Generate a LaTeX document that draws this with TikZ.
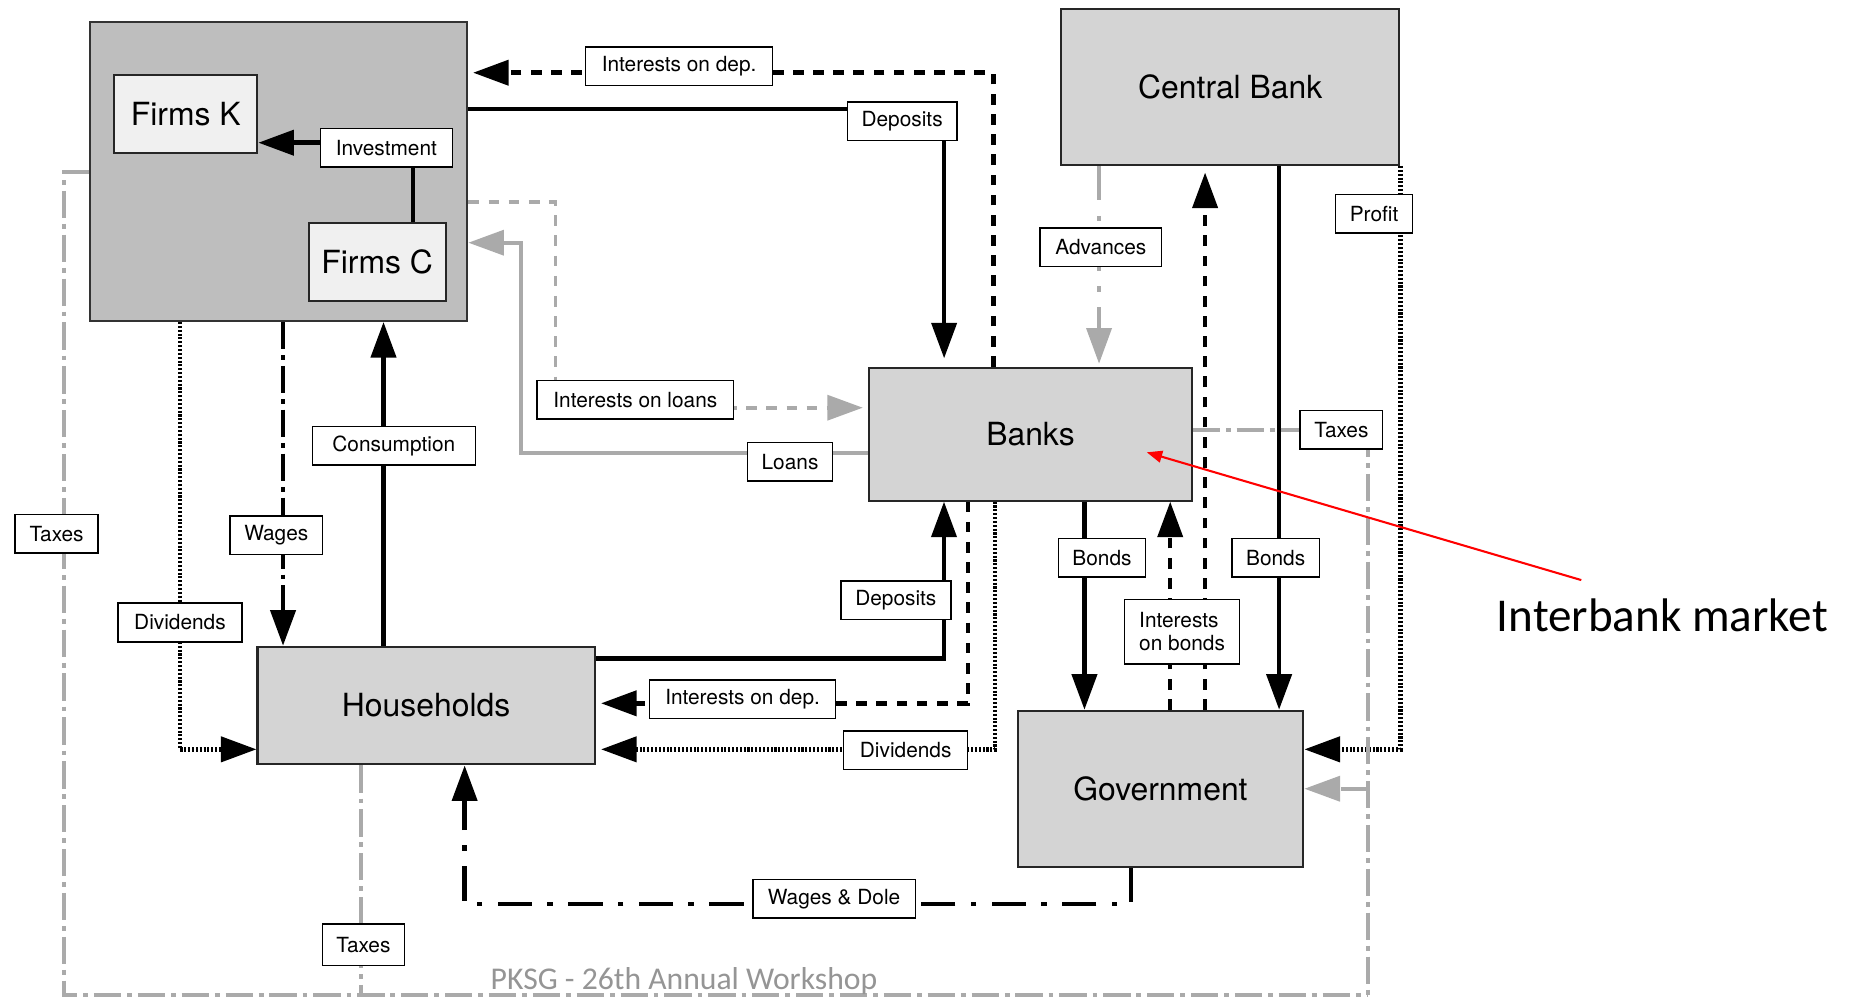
\documentclass[tikz,border=0pt]{standalone}
\usepackage{fontspec}
\setmainfont{TeX Gyre Heros}
\newfontfamily\calibrifont{Carlito}
\usetikzlibrary{arrows.meta,calc}
\definecolor{firmsfill}{HTML}{BEBEBE}
\definecolor{subfill}{HTML}{F0F0F0}
\definecolor{boxfill}{HTML}{D4D4D4}
\definecolor{flowgray}{HTML}{AAAAAA}
\definecolor{notegray}{HTML}{959595}
\pgfdeclarelayer{back}
\pgfdeclarelayer{conn}
\pgfsetlayers{back,conn,main}
\begin{document}
\begin{tikzpicture}[x=0.02cm,y=-0.02cm,
  sector/.style={draw=black!85, line width=0.034cm, fill=boxfill, inner sep=0, font=\fontsize{15.3}{18}\selectfont},
  subsector/.style={sector, fill=subfill},
  lbl/.style={draw=black, line width=0.026cm, fill=white, inner sep=0, minimum height=0.65cm, font=\fontsize{10}{11.4}\selectfont},
  blk/.style={line width=0.075cm, draw=black},
  gry/.style={line width=0.065cm, draw=flowgray},
  tipb/.style={-{Triangle[length=0.6cm,width=0.42cm]}},
  fdash/.style={dash pattern=on 0.18cm off 0.16cm},
  fdot/.style={dash pattern=on 0.035cm off 0.03cm},
  fdd/.style={dash pattern=on 0.46cm off 0.1cm on 0.08cm off 0.1cm},
  flongdd/.style={dash pattern=on 0.58cm off 0.26cm on 0.09cm off 0.26cm}
]
\useasboundingbox (0,0) rectangle (1568,841);

\begin{pgfonlayer}{back}
  \fill[white] (0,0) rectangle (1568,841);
  \node[sector, fill=firmsfill, draw=black!80, minimum width=6.36cm, minimum height=5.036cm] (Firms) at (235,144.7) {};
\end{pgfonlayer}

% sectors
\node[subsector, minimum width=2.414cm, minimum height=1.314cm] (FirmsK) at (156.6,95.9) {Firms K};
\node[subsector, minimum width=2.308cm, minimum height=1.322cm] (FirmsC) at (318,220.7) {Firms C};
\node[sector, minimum width=5.704cm, minimum height=2.624cm] (CB) at (1037.1,73.5) {Central Bank};
\node[sector, minimum width=5.44cm, minimum height=2.242cm] (Banks) at (868.7,366) {Banks};
\node[sector, minimum width=5.686cm, minimum height=1.984cm] (HH) at (359.2,594.8) {Households};
\node[sector, minimum width=4.82cm, minimum height=2.63cm] (Gov) at (978.3,664.9) {Government};

% labels
\node[lbl, minimum width=3.154cm] (lIntDepT) at (572.5,55.8) {Interests on dep.};
\node[lbl, minimum width=1.846cm] (lDepT) at (760.5,102.2) {Deposits};
\node[lbl, minimum width=2.226cm] (lInv) at (325.7,124.6) {Investment};
\node[lbl, minimum width=2.05cm] (lAdv) at (928,208.4) {Advances};
\node[lbl, minimum width=1.292cm] (lProfit) at (1158.3,180.4) {Profit};
\node[lbl, minimum width=3.316cm] (lIntLoans) at (535.6,336.9) {Interests on loans};
\node[lbl, minimum width=1.432cm] (lLoans) at (666,389.4) {Loans};
\node[lbl, minimum width=1.392cm] (lTaxB) at (1130.8,362.2) {Taxes};
\node[lbl, minimum width=2.748cm] (lCons) at (332,375.9) {Consumption};
\node[lbl, minimum width=1.4cm] (lTaxL) at (47.7,449.9) {Taxes};
\node[lbl, minimum width=1.554cm] (lWages) at (232.9,451.3) {Wages};
\node[lbl, minimum width=2.094cm] (lDivL) at (151.7,524.8) {Dividends};
\node[lbl, minimum width=1.854cm] (lDepB) at (755.2,506.1) {Deposits};
\node[lbl, minimum width=1.47cm] (lBondsL) at (929,470.1) {Bonds};
\node[lbl, minimum width=1.472cm] (lBondsR) at (1075.4,470.1) {Bonds};
\node[lbl, minimum width=1.94cm, minimum height=1.092cm, align=left] (lIntBonds) at (996.5,532.5) {Interests\\on bonds};
\node[lbl, minimum width=3.14cm] (lIntDepB) at (626,589.5) {Interests on dep.};
\node[lbl, minimum width=2.09cm] (lDivB) at (763.5,632.5) {Dividends};
\node[lbl, minimum width=2.74cm] (lWD) at (703.1,757.7) {Wages \& Dole};
\node[lbl, minimum width=1.386cm, minimum height=0.7cm] (lTaxH) at (306.4,796.4) {Taxes};

% connectors
\begin{pgfonlayer}{conn}
  % investment
  \draw[blk, tipb] (348.3,0 |- FirmsC.north) -- (348.3,120.3) -- (FirmsK.east |- 0,120.3);
  % interests on deposits to firms
  \draw[blk, fdash, tipb, shorten >=0.08cm] (837.6,0 |- Banks.north) -- (837.6,61.3) -- (Firms.east |- 0,61.3);
  % deposits of firms
  \draw[blk, tipb, shorten >=0.14cm] (Firms.east |- 0,91.9) -- (795.9,91.9) -- (795.9,0 |- Banks.north);
  % interests on loans
  \draw[gry, fdash, tipb, shorten >=0.09cm] (Firms.east |- 0,170) -- (468.3,170) -- (468.3,343.7) -- (Banks.west |- 0,343.7);
  % loans
  \draw[gry, tipb] (Banks.west |- 0,381.6) -- (439.3,381.6) -- (439.3,204.6) -- (Firms.east |- 0,204.6);
  % advances
  \draw[gry, flongdd, tipb, shorten >=0.05cm] (926.5,0 |- CB.south) -- (926.5,0 |- Banks.north);
  % dashed from government to central bank
  \draw[blk, fdash, tipb, shorten >=0.11cm] (1015.9,0 |- Gov.north) -- (1015.9,0 |- CB.south);
  % bonds central bank
  \draw[blk, tipb] (1078.3,0 |- CB.south) -- (1078.3,0 |- Gov.north);
  % profit
  \draw[blk, fdot, tipb] (CB.south east) -- (CB.south east |- 0,631.7) -- (Gov.east |- 0,631.7);
  % bonds banks
  \draw[blk, tipb] (914.2,0 |- Banks.south) -- (914.2,0 |- Gov.north);
  % interests on bonds
  \draw[blk, fdash, tipb] (986.5,0 |- Gov.north) -- (986.5,0 |- Banks.south);
  % deposits of households
  \draw[blk, tipb] (HH.east |- 0,555) -- (795.8,555) -- (795.8,0 |- Banks.south);
  % interests on deposits to households
  \draw[blk, fdash, tipb, shorten >=0.09cm] (815.8,0 |- Banks.south) -- (815.8,592.9) -- (HH.east |- 0,592.9);
  % dividends of banks
  \draw[blk, fdot, tipb, shorten >=0.09cm] (839,0 |- Banks.south) -- (839,631.7) -- (HH.east |- 0,631.7);
  % consumption
  \draw[blk, tipb] (323.3,0 |- HH.north) -- (323.3,0 |- Firms.south);
  % wages
  \draw[blk, fdd, tipb] (238.6,0 |- Firms.south) -- (238.6,0 |- HH.north);
  % dividends of firms
  \draw[blk, fdot, tipb] (151.7,0 |- Firms.south) -- (151.7,631.7) -- (HH.west |- 0,631.7);
  % wages & dole
  \draw[blk, flongdd, tipb] (953.3,0 |- Gov.south) -- (953.3,762) -- (391.7,762) -- (391.7,0 |- HH.south);
  % taxes
  \draw[gry, fdd] (Firms.west) -- (54.3,144.7) -- (54.3,838.8) -- (1153.5,838.8);
  \draw[gry, fdd] (304,0 |- HH.south) -- (304,838.8);
  \draw[gry, fdd] (Banks.east |- 0,362.5) -- (1153.5,362.5) -- (1153.5,838.8);
  \draw[gry, fdd, tipb] (1153.5,664.9) -- (Gov.east);
\end{pgfonlayer}

% annotation
\node[font=\calibrifont\fontsize{22.6}{26}\selectfont, anchor=base west, inner sep=0] (ib) at (1261.5,532.5) {Interbank market};
\coordinate (ibstart) at (1333,489);
\draw[red, line width=0.035cm, -{Triangle[length=0.26cm,width=0.2cm]}] (ibstart) -- ($(Banks.center)+(98,15.3)$);

\node[font=\calibrifont\fontsize{15.2}{18}\selectfont, text=notegray, anchor=base west, inner sep=0] (pksg) at (413.3,834.5) {PKSG - 26th Annual Workshop};
\end{tikzpicture}
\end{document}
